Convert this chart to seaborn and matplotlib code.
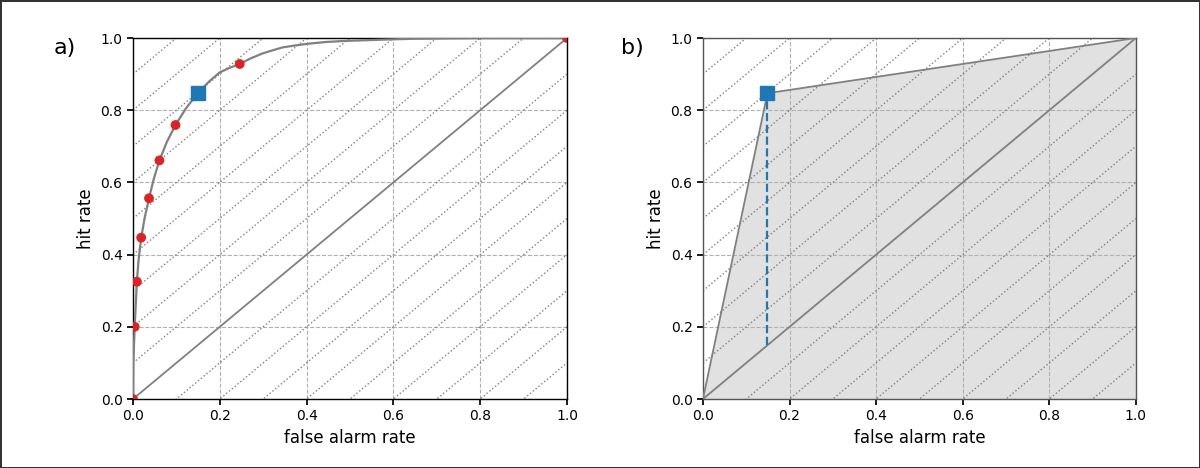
import pandas as pd
import matplotlib.pyplot as plt
import seaborn as sns

sns.set_theme(style='ticks', context='notebook', font_scale=1.0)
plt.rcParams['font.family'] = ['DejaVu Sans']
plt.rcParams.update({'text.color': 'black', 'axes.labelcolor': 'black',
                     'xtick.color': 'black', 'ytick.color': 'black'})

# ROC curve (panel a)
curve_far = [0.0, 0.0008, 0.004, 0.009, 0.013, 0.019, 0.027, 0.037, 0.048, 0.061,
             0.078, 0.098, 0.122, 0.149, 0.175, 0.2, 0.224, 0.246, 0.27, 0.298,
             0.322, 0.345, 0.372, 0.402, 0.445, 0.49, 0.54, 0.59, 0.65, 0.72, 0.8, 0.9, 1.0]
curve_hr = [0.0, 0.1, 0.2, 0.325, 0.386, 0.447, 0.502, 0.556, 0.61, 0.661,
            0.712, 0.759, 0.805, 0.847, 0.879, 0.905, 0.918, 0.928, 0.943, 0.957,
            0.966, 0.974, 0.979, 0.984, 0.989, 0.992, 0.994, 0.996, 0.998, 0.999, 1.0, 1.0, 1.0]

# thresholds (red dots)
pts_far = [0.0, 0.004, 0.009, 0.019, 0.037, 0.061, 0.098, 0.246, 1.0]
pts_hr = [0.0, 0.2, 0.325, 0.447, 0.556, 0.661, 0.759, 0.928, 1.0]

# chosen point (blue square)
sel_far = 0.149
sel_hr = 0.847

# offsets of the dotted iso-lines (hit rate - false alarm rate)
iso_offsets = [-0.9, -0.8, -0.7, -0.6, -0.5, -0.4, -0.3, -0.2, -0.1,
               0.1, 0.2, 0.3, 0.4, 0.5, 0.6, 0.7, 0.8, 0.9]

ticks = [0.0, 0.2, 0.4, 0.6, 0.8, 1.0]

fig = plt.figure(figsize=(12, 4.68), dpi=100)
fig.patch.set_edgecolor('#333333')
fig.patch.set_linewidth(2)

ax1 = fig.add_axes([0.1108, 0.1474, 0.3617, 0.7714])
ax2 = fig.add_axes([0.5858, 0.1474, 0.3608, 0.7714])


def base(ax):
    for c in iso_offsets:
        ax.plot([0, 1], [c, 1 + c], color='gray', ls=':', lw=1, zorder=1)
    ax.plot([0, 1], [0, 1], color='gray', lw=1.3, zorder=3)
    ax.set_xlim(0, 1)
    ax.set_ylim(0, 1)
    ax.set_xticks(ticks)
    ax.set_yticks(ticks)
    ax.grid(True, ls='--', color='#b0b0b0', lw=0.8)
    ax.set_axisbelow(True)
    ax.tick_params(labelsize=10, length=4, color='black', direction='out')
    for s in ax.spines.values():
        s.set_color('black')
        s.set_linewidth(1.0)


# panel a
base(ax1)
df_curve = pd.DataFrame({'far': curve_far, 'hr': curve_hr})
sns.lineplot(data=df_curve, x='far', y='hr', ax=ax1, color='gray', lw=1.6, zorder=4)
df_pts = pd.DataFrame({'far': pts_far, 'hr': pts_hr})
sns.scatterplot(data=df_pts, x='far', y='hr', ax=ax1, color='tab:red', s=50,
                edgecolor='none', zorder=5)
ax1.plot([sel_far], [sel_hr], marker='s', color='tab:blue', ms=10, zorder=6)
ax1.set_xlabel('false alarm rate', fontsize=12)
ax1.set_ylabel('hit rate', fontsize=12)

# panel b
base(ax2)
poly_far = [0.0, sel_far, 1.0]
poly_hr = [0.0, sel_hr, 1.0]
ax2.fill_between(poly_far, poly_hr, 0, color='#e1e1e1', lw=0, zorder=0.3)
ax2.plot(poly_far, poly_hr, color='gray', lw=1.3, zorder=3)
ax2.plot([sel_far, sel_far], [sel_far, sel_hr], color='tab:blue', ls='--', lw=1.6, zorder=4)
ax2.plot([sel_far], [sel_hr], marker='s', color='tab:blue', ms=10, zorder=6)
ax2.set_xlabel('false alarm rate', fontsize=12)
ax2.set_ylabel('hit rate', fontsize=12)
for s in ax2.spines.values():
    s.set_color('#555555')

fig.text(0.054, 0.897, 'a)', fontsize=16, ha='center', va='center')
fig.text(0.527, 0.897, 'b)', fontsize=16, ha='center', va='center')

fig.savefig('out.png', dpi=100)
